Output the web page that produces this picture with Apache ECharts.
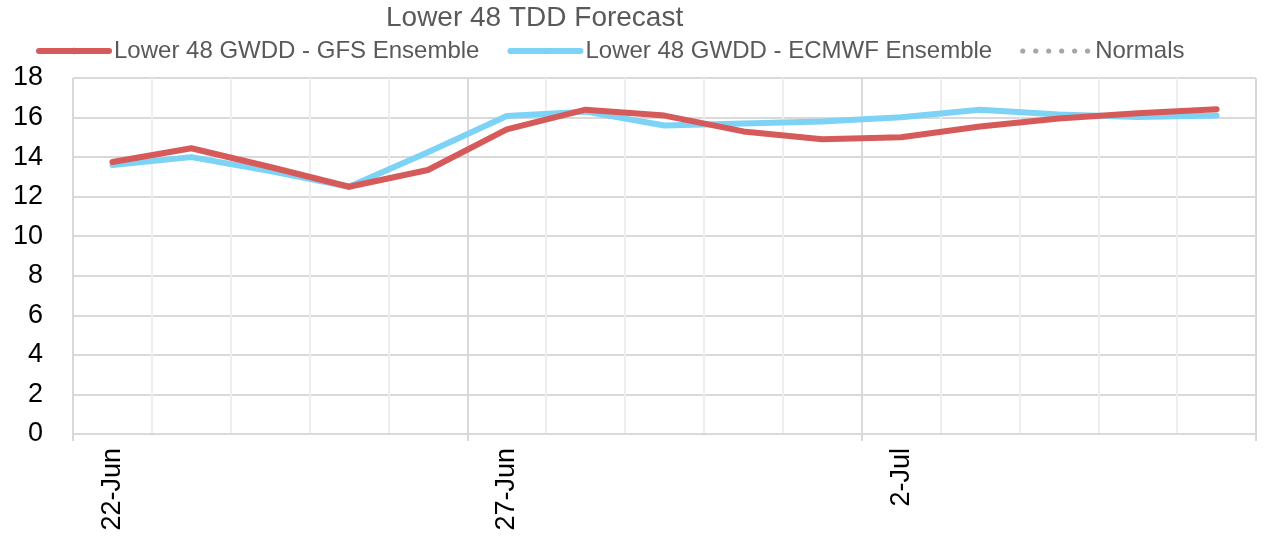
<!DOCTYPE html>
<html>
<head>
<meta charset="utf-8">
<script src="https://cdn.jsdelivr.net/npm/echarts@6/dist/echarts.min.js"></script>
<style>
  html, body { margin: 0; padding: 0; background: #fff; }
  #chartContainer { width: 1268px; height: 538px; }
</style>
</head>
<body>
<div id="chartContainer"></div>
<script>
'use strict';
// data
let categories = ['22-Jun', '23-Jun', '24-Jun', '25-Jun', '26-Jun', '27-Jun', '28-Jun', '29-Jun',
    '30-Jun', '1-Jul', '2-Jul', '3-Jul', '4-Jul', '5-Jul', '6-Jul'];
let gfsValues = [13.75, 14.45, 13.5, 12.5, 13.35, 15.4, 16.4, 16.1, 15.3, 14.9, 15.0, 15.55, 15.95, 16.22, 16.42];
let ecmwfValues = [13.6, 14.0, 13.3, 12.5, 14.25, 16.08, 16.3, 15.6, 15.7, 15.8, 16.02, 16.4, 16.15, 16.03, 16.1];
let normalsValues = categories.map(function() { return null; });
let yTicks = { min: 0, max: 18, step: 2 };

let initChart = (function() {
    let chartContainer = document.getElementById('chartContainer');
    let demoChart = echarts.init(chartContainer);
    let font = ['Liberation Sans', 'Arial', 'sans-serif'];

    // six round dots for the "Normals" legend icon
    let dotPath = 'path://';
    for (let i = 0; i < 6; i++) {
        let cx = 2.5 + i * 12.5;
        dotPath += 'M' + (cx - 2.5) + ',2.5a2.5,2.5 0 1,0 5,0a2.5,2.5 0 1,0 -5,0Z';
    }

    let option = {
        backgroundColor: '#fff',
        animation: false,
        title: {
            text: 'Lower 48 TDD Forecast',
            left: 381,
            top: -1,
            textStyle: {
                fontFamily: font,
                fontWeight: 'normal',
                fontSize: 28,
                color: '#595959'
            }
        },
        legend: {
            data: [
                { name: 'Lower 48 GWDD - GFS Ensemble' },
                { name: 'Lower 48 GWDD - ECMWF Ensemble' },
                { name: 'Normals', icon: dotPath, itemStyle: { color: '#a6a6a6' } }
            ],
            left: 31,
            top: 34,
            itemWidth: 70,
            itemHeight: 8,
            itemGap: 28,
            lineStyle: {
                width: 6
            },
            textStyle: {
                fontFamily: font,
                fontSize: 24,
                color: '#595959'
            }
        },
        grid: {
            left: 73,
            right: 12,
            top: 78,
            bottom: 104,
            containLabel: false
        },
        xAxis: [{
            type: 'category',
            data: categories,
            boundaryGap: true,
            axisLine: {
                lineStyle: { color: '#d9d9d9', width: 2 }
            },
            axisTick: {
                show: true,
                interval: 4,
                length: 7,
                lineStyle: { color: '#d9d9d9', width: 2 }
            },
            axisLabel: {
                interval: 4,
                rotate: 90,
                margin: 14,
                fontFamily: font,
                fontSize: 27,
                color: '#000'
            },
            splitLine: {
                show: true,
                interval: 0,
                lineStyle: { color: '#eeeeee', width: 2 }
            }
        }, {
            type: 'category',
            data: categories,
            boundaryGap: true,
            position: 'bottom',
            axisLine: { show: false },
            axisTick: { show: false },
            axisLabel: { show: false },
            splitLine: {
                show: true,
                interval: 4,
                lineStyle: { color: '#d9d9d9', width: 2 }
            }
        }],
        yAxis: {
            type: 'value',
            min: yTicks.min,
            max: yTicks.max,
            interval: yTicks.step,
            axisLine: { show: false },
            axisTick: { show: false },
            axisLabel: {
                margin: 30,
                fontFamily: font,
                fontSize: 27,
                color: '#000'
            },
            splitLine: {
                lineStyle: { color: '#d9d9d9', width: 2 }
            }
        },
        series: [{
            name: 'Lower 48 GWDD - ECMWF Ensemble',
            type: 'line',
            data: ecmwfValues,
            symbol: 'none',
            z: 3,
            lineStyle: { color: '#7dd3f5', width: 6, cap: 'round', join: 'round' },
            itemStyle: { color: '#7dd3f5' }
        }, {
            name: 'Lower 48 GWDD - GFS Ensemble',
            type: 'line',
            data: gfsValues,
            symbol: 'none',
            z: 4,
            lineStyle: { color: '#d75a5a', width: 6, cap: 'round', join: 'round' },
            itemStyle: { color: '#d75a5a' }
        }, {
            name: 'Normals',
            type: 'line',
            data: normalsValues,
            symbol: 'none',
            lineStyle: { color: '#a6a6a6', width: 4, type: 'dotted' },
            itemStyle: { color: '#a6a6a6' }
        }]
    };

    demoChart.setOption(option);
})();
</script>
</body>
</html>
